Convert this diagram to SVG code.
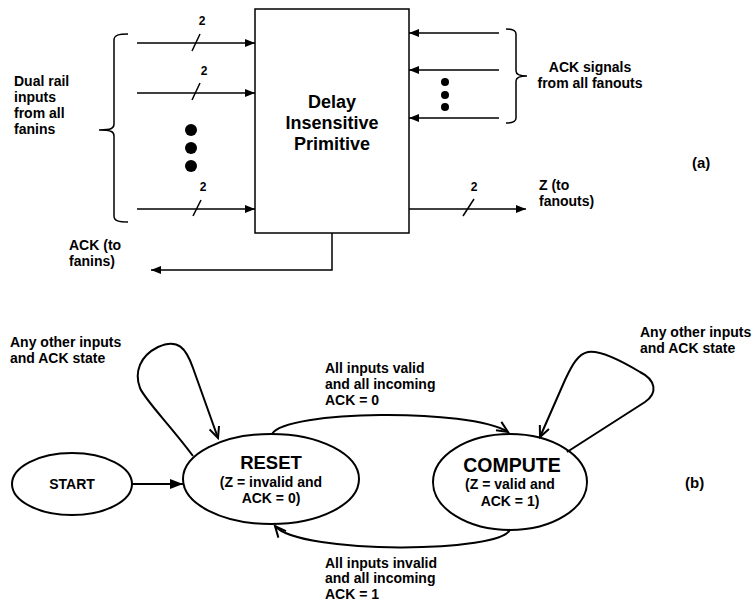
<svg xmlns="http://www.w3.org/2000/svg" width="753" height="605" viewBox="0 0 753 605">
  <style>
    text { font-family: "Liberation Sans", Arial, sans-serif; font-weight: bold; fill: #000; }
    .lbl { font-size: 14px; }
    .bus { font-size: 12px; text-anchor: middle; }
    .mid { text-anchor: middle; }
    .title { font-size: 18px; text-anchor: middle; }
    .state { font-size: 18.5px; text-anchor: middle; }
    .state-wide { font-size: 19.5px; text-anchor: middle; }
    .sub { font-size: 14px; text-anchor: middle; }
    .tag { font-size: 15px; }
    .wire { fill: none; stroke: #000; stroke-width: 1.5; }
    .edge { fill: none; stroke: #000; stroke-width: 2; }
    .node { fill: #fff; stroke: #000; stroke-width: 2; }
  </style>
  <defs>
    <marker id="tri" markerUnits="userSpaceOnUse" markerWidth="10" markerHeight="8" refX="10" refY="4" orient="auto">
      <path d="M0,0 L10,4 L0,8 z" fill="#000"/>
    </marker>
    <marker id="triBig" markerUnits="userSpaceOnUse" markerWidth="13" markerHeight="10" refX="13" refY="5" orient="auto">
      <path d="M0,0 L13,5 L0,10 z" fill="#000"/>
    </marker>
    <marker id="vee" markerUnits="userSpaceOnUse" markerWidth="14" markerHeight="12" refX="12" refY="6" orient="auto">
      <path d="M1,1 L12,6 L1,11" fill="none" stroke="#000" stroke-width="2"/>
    </marker>
  </defs>

  <!-- (a) delay insensitive primitive block -->
  <g id="primitive">
    <rect x="255" y="9" width="154" height="224" fill="#fff" stroke="#000" stroke-width="1.5"/>
    <text class="title" x="332" y="108">Delay</text>
    <text class="title" x="332" y="129">Insensitive</text>
    <text class="title" x="332" y="150">Primitive</text>
  </g>

  <g id="inputs">
    <path class="wire" d="M114,40 C114,35 119,34 128,34 M114,40 L114,124 C114,128 112,130 99,130 C112,130 114,132 114,136 L114,216 C114,221 119,222 128,222"/>
    <text class="lbl" x="14" y="86">Dual rail</text>
    <text class="lbl" x="14" y="102">inputs</text>
    <text class="lbl" x="14" y="118">from all</text>
    <text class="lbl" x="14" y="134">fanins</text>
    <circle cx="191" cy="130" r="6"/>
    <circle cx="191" cy="148" r="6"/>
    <circle cx="191" cy="166" r="6"/>
    <text class="bus" x="202" y="25">2</text>
    <text class="bus" x="204" y="75">2</text>
    <text class="bus" x="203" y="191">2</text>
  </g>

  <g id="ack-in">
    <path class="wire" d="M506,29 C512,29 516,30 516,34 L516,71 C516,74 518,76 527,76 C518,76 516,78 516,81 L516,118 C516,122 512,123 506,123"/>
    <circle cx="445" cy="82" r="4"/>
    <circle cx="445" cy="95" r="4"/>
    <circle cx="445" cy="107" r="4"/>
    <text class="lbl mid" x="590" y="72">ACK signals</text>
    <text class="lbl mid" x="590" y="88">from all fanouts</text>
  </g>

  <g id="output">
    <text class="bus" x="474" y="191">2</text>
    <text class="lbl" x="539" y="190">Z (to</text>
    <text class="lbl" x="539" y="206">fanouts)</text>
  </g>

  <g id="ack-out">
    <text class="lbl" x="69" y="250">ACK (to</text>
    <text class="lbl" x="69" y="266">fanins)</text>
  </g>

  <text id="label-a" class="tag" x="692" y="168">(a)</text>

  <g id="wires-a">
    <line class="wire" x1="137" y1="43" x2="255" y2="43" marker-end="url(#tri)"/>
    <line class="wire" x1="137" y1="93" x2="255" y2="93" marker-end="url(#tri)"/>
    <line class="wire" x1="137" y1="209" x2="255" y2="209" marker-end="url(#tri)"/>
    <line class="wire" x1="192" y1="51" x2="200" y2="34"/>
    <line class="wire" x1="192" y1="100" x2="200" y2="83"/>
    <line class="wire" x1="193" y1="216" x2="201" y2="200"/>
    <line class="wire" x1="499" y1="33" x2="409" y2="33" marker-end="url(#tri)"/>
    <line class="wire" x1="499" y1="70" x2="409" y2="70" marker-end="url(#tri)"/>
    <line class="wire" x1="499" y1="118" x2="409" y2="118" marker-end="url(#tri)"/>
    <line class="wire" x1="409" y1="209" x2="526" y2="209" marker-end="url(#tri)"/>
    <line class="wire" x1="463" y1="216" x2="474" y2="199"/>
    <path class="wire" d="M332,233 L332,270 L151,270" marker-end="url(#tri)"/>
  </g>

  <!-- (b) state machine -->
  <g id="start">
    <ellipse class="node" cx="72" cy="484" rx="60" ry="31"/>
    <text class="lbl mid" x="72" y="489">START</text>
  </g>

  <g id="reset">
    <ellipse class="node" cx="271" cy="479" rx="88" ry="45"/>
    <text class="state" x="271" y="469">RESET</text>
    <text class="sub" x="271" y="487">(Z = invalid and</text>
    <text class="sub" x="271" y="503">ACK = 0)</text>
  </g>

  <g id="compute">
    <ellipse class="node" cx="510" cy="482" rx="77" ry="48"/>
    <text class="state-wide" x="512" y="472">COMPUTE</text>
    <text class="sub" x="510" y="489">(Z = valid and</text>
    <text class="sub" x="510" y="506">ACK = 1)</text>
  </g>

  <g id="edge-labels">
    <text class="lbl" x="10" y="347">Any other inputs</text>
    <text class="lbl" x="10" y="363">and ACK state</text>
    <text class="lbl" x="640" y="337">Any other inputs</text>
    <text class="lbl" x="640" y="353">and ACK state</text>
    <text class="lbl" x="325" y="373">All inputs valid</text>
    <text class="lbl" x="325" y="389">and all incoming</text>
    <text class="lbl" x="325" y="405">ACK = 0</text>
    <text class="lbl" x="325" y="568">All inputs invalid</text>
    <text class="lbl" x="325" y="583">and all incoming</text>
    <text class="lbl" x="325" y="599">ACK = 1</text>
  </g>

  <text id="label-b" class="tag" x="685" y="488">(b)</text>

  <g id="edges-b">
    <line class="edge" x1="132" y1="484" x2="183" y2="484" marker-end="url(#triBig)"/>
    <path class="edge" d="M272,434 C285,410 470,408 508,432" marker-end="url(#vee)"/>
    <path class="edge" d="M510,529 C505,553 300,555 275,526" marker-end="url(#vee)"/>
    <path class="edge" d="M193,456 C170,425 145,400 140,388 C134,372 140,356 158,347 C178,338 186,348 193,368 L218,438" marker-end="url(#vee)"/>
    <path class="edge" d="M567,452 L645,402 C658,393 656,380 640,372 C620,360 600,350 588,352 C578,354 572,365 565,380 L540,437" marker-end="url(#vee)"/>
  </g>
</svg>
